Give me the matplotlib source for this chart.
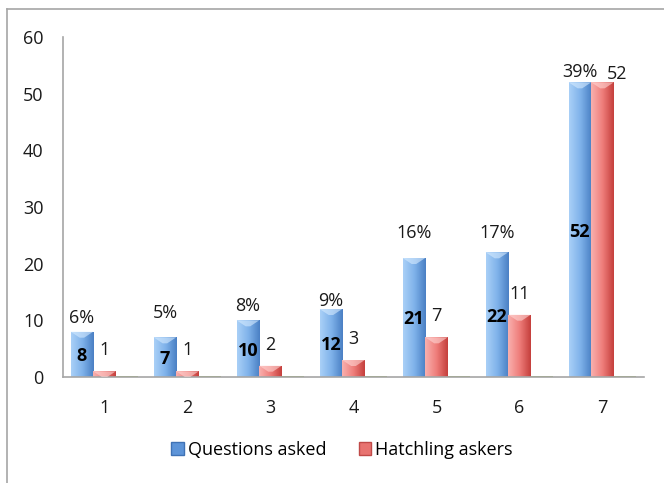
import numpy as np
import matplotlib
matplotlib.use('Agg')
import matplotlib.pyplot as plt
from matplotlib.colors import LinearSegmentedColormap
from matplotlib.patches import Patch
from matplotlib.lines import Line2D

plt.rcParams['font.family'] = ['Open Sans', 'DejaVu Sans']

# data
categories = ['1', '2', '3', '4', '5', '6', '7']
questions = [8, 7, 10, 12, 21, 22, 52]
askers = [1, 1, 2, 3, 7, 11, 52]
third = [0.2, 0.2, 0.2, 0.2, 0.2, 0.2, 0.2]
pct_labels = ['6%', '5%', '8%', '9%', '16%', '17%', '39%']

blue_cols = ['#a9d0f7', '#7fb2ea', '#4a80c4']
red_cols = ['#f9b0ae', '#ef7e7b', '#c53f3c']
fs = 13

fig = plt.figure(figsize=(6.64, 4.83), dpi=100)
ax = fig.add_axes([63/664, 1-377/483, 581/664, 340/483])

x = np.arange(len(categories))
w = 0.272

b1 = ax.bar(x - w, questions, w, color='none', edgecolor='none', zorder=2)
b2 = ax.bar(x, askers, w, color='none', edgecolor='none', zorder=2)
b3 = ax.bar(x + w, third, w, color='#9bbb59', edgecolor='none', zorder=2)


def shade(patch, cols):
    x0, y0 = patch.get_x(), patch.get_y()
    pw, ph = patch.get_width(), patch.get_height()
    cmap = LinearSegmentedColormap.from_list('g', cols)
    grad = np.linspace(0, 1, 64).reshape(1, -1)
    im = ax.imshow(grad, extent=[x0, x0 + pw, y0, y0 + ph], cmap=cmap,
                   aspect='auto', interpolation='bicubic', zorder=2)
    im.set_clip_path(patch)


for p in b1:
    shade(p, blue_cols)
for p in b2:
    shade(p, red_cols)

ax.set_xlim(-0.5, len(categories) - 0.5)
ax.set_ylim(0, 60)

# bevel on top of each bar
dh = 6 / (340 / 60)
for bars, c in [(b1, '#d6ebff'), (b2, '#ffd6d4')]:
    for p in bars:
        x0, pw, top = p.get_x(), p.get_width(), p.get_height()
        tri = plt.Polygon([[x0, top], [x0 + pw, top], [x0 + pw * 0.6, top - dh],
                           [x0 + pw * 0.4, top - dh]], closed=True,
                          color=c, alpha=0.6, lw=0, zorder=3)
        ax.add_patch(tri)

# labels
pct_dy = [14, 24, 14, 8, 25, 19, 10]
for p, v, s, dy in zip(b1, questions, pct_labels, pct_dy):
    cx = p.get_x() + p.get_width() / 2
    ax.annotate(str(v), (cx, v / 2), xytext=(0, -2), textcoords='offset pixels',
                ha='center', va='center', fontsize=fs, fontweight='bold',
                color='black', zorder=5)
    ax.annotate(s, (cx, v), xytext=(0, dy), textcoords='offset pixels',
                ha='center', va='center', fontsize=fs, color='#1a1a1a')

for i, (p, v) in enumerate(zip(b2, askers)):
    cx = p.get_x() + p.get_width() / 2
    off = (15, 8) if i == len(askers) - 1 else (0, 21)
    ax.annotate(str(v), (cx, v), xytext=off, textcoords='offset pixels',
                ha='center', va='center', fontsize=fs, color='#1a1a1a')

ax.set_xticks(x)
ax.set_xticklabels(categories)
ax.set_yticks(range(0, 61, 10))
ax.tick_params(axis='both', length=0, labelsize=fs, colors='#1a1a1a')
ax.tick_params(axis='y', pad=14)
ax.tick_params(axis='x', pad=16)
for s in ['top', 'right']:
    ax.spines[s].set_visible(False)
for s in ['left', 'bottom']:
    ax.spines[s].set_color('#a6a6a6')
    ax.spines[s].set_linewidth(1.2)

# outer frame
fig.add_artist(Line2D([6.5/664, 6.5/664], [0, 1 - 8.5/483], color='#a6a6a6', lw=1.2))
fig.add_artist(Line2D([6.5/664, 1], [1 - 8.5/483, 1 - 8.5/483], color='#a6a6a6', lw=1.2))

handles = [Patch(facecolor='#5d94d8', edgecolor='#3f72b5', label='Questions asked'),
           Patch(facecolor='#e87370', edgecolor='#c04a48', label='Hatchling askers')]
fig.legend(handles=handles, loc='center', bbox_to_anchor=(0.515, 1 - 450/483),
           ncol=2, frameon=False, fontsize=fs, handlelength=0.7,
           handleheight=0.7, handletextpad=0.2, columnspacing=1.8)

fig.savefig('out.png', dpi=100)
